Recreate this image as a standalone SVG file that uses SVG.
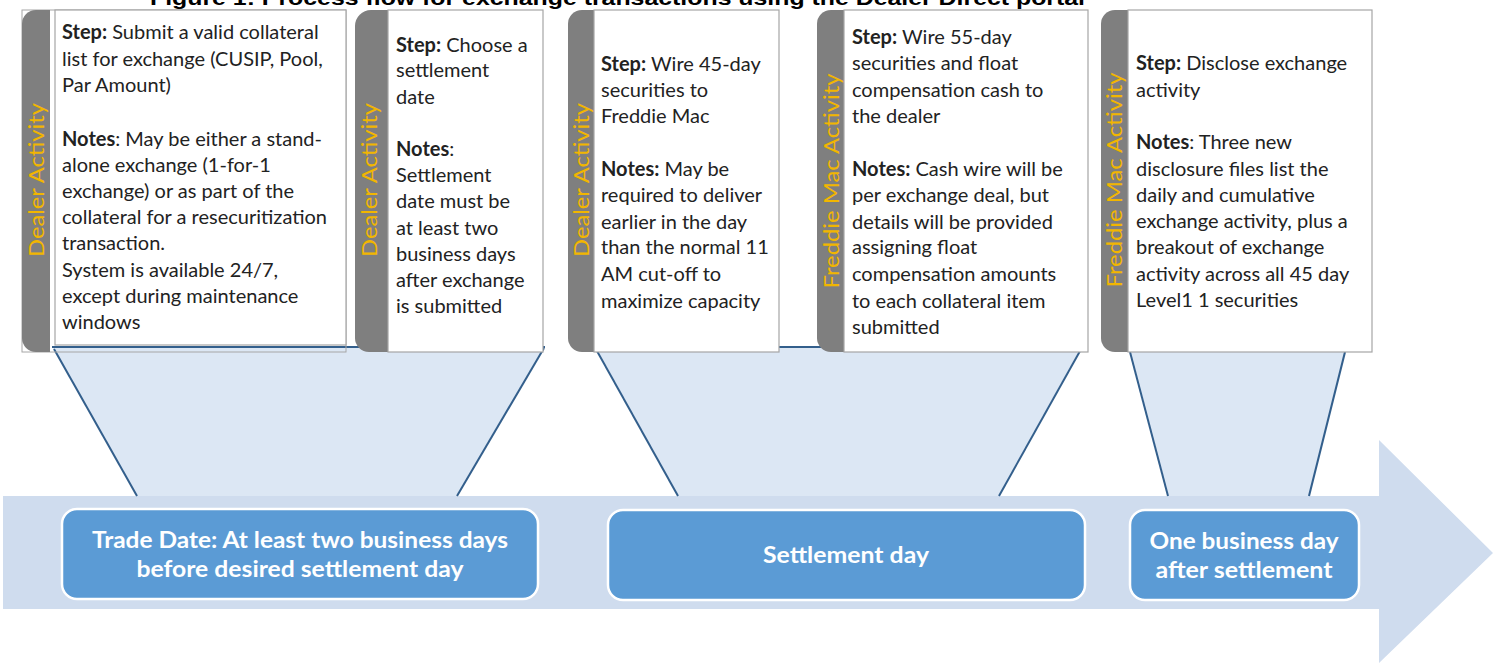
<svg xmlns="http://www.w3.org/2000/svg" width="1494" height="663" viewBox="0 0 1494 663">
<style>
.title{font-family:"Liberation Sans",Arial,sans-serif;font-weight:bold;font-size:21px;fill:#000}
.tab{fill:#7f7f7f}
.card{fill:#fff;stroke:#a6a6a6;stroke-width:1.2}
.vlab{font-family:Lato,"Liberation Sans",sans-serif;font-weight:400;font-size:22px;fill:#f2b600}
.body{font-family:Lato,"Liberation Sans",sans-serif;font-weight:400;font-size:20px;fill:#222}
.b{font-weight:bold}
.trap{fill:#dce7f4;stroke:none}
.edge{stroke:#335f8c;stroke-width:2;fill:none}
.band{fill:#cfdcee}
.pill{fill:#5b9bd5;stroke:#fff;stroke-width:2.5}
.ptxt{font-family:Lato,"Liberation Sans",sans-serif;font-weight:bold;font-size:22px;fill:#fff;text-anchor:middle}
</style>
<rect width="1494" height="663" fill="#fff"/>
<text class="title" x="150" y="5" textLength="935" lengthAdjust="spacingAndGlyphs">Figure 1: Process flow for exchange transactions using the Dealer Direct portal</text>

<!-- timeline band with arrow head -->
<path class="band" d="M3,496 H1379 V440 L1493,553 L1379,663 V609 H3 Z"/>

<g id="connectors">
  <path class="trap" d="M52,347 H545 L457,496 H137 Z"/>
  <path class="edge" d="M52,347 H545"/>
  <path class="edge" d="M54,349 L137,496"/>
  <path class="edge" d="M544,348 L457,496"/>
  <path class="trap" d="M596,347 H1081 L999,496 H678 Z"/>
  <path class="edge" d="M596,347 H1081"/>
  <path class="edge" d="M597,351 L678,496"/>
  <path class="edge" d="M1080,351 L999,496"/>
  <path class="trap" d="M1130,352 H1345 L1309,496 H1168 Z"/>
  <path class="edge" d="M1130,352 L1168,496"/>
  <path class="edge" d="M1345,352 L1309,496"/>
</g>

<g id="card1">
  <rect x="22" y="10" width="324" height="342" fill="none" stroke="#a6a6a6" stroke-width="1"/>
  <path class="tab" d="M50,10 H36 A14,14 0 0 0 22,24 V338 A14,14 0 0 0 36,352 H50 Z"/>
  <rect class="card" x="55" y="10" width="291" height="335"/>
  <text class="vlab" transform="translate(44,180) rotate(-90)" text-anchor="middle" textLength="154" lengthAdjust="spacingAndGlyphs">Dealer Activity</text>
  <text class="body" x="62">
    <tspan x="62" y="39"><tspan class="b">Step:</tspan> Submit a valid collateral</tspan>
    <tspan x="62" y="66">list for exchange (CUSIP, Pool,</tspan>
    <tspan x="62" y="92">Par Amount)</tspan>
    <tspan x="62" y="146"><tspan class="b">Notes</tspan>: May be either a stand-</tspan>
    <tspan x="62" y="172">alone exchange (1-for-1</tspan>
    <tspan x="62" y="198">exchange) or as part of the</tspan>
    <tspan x="62" y="224">collateral for a resecuritization</tspan>
    <tspan x="62" y="250">transaction.</tspan>
    <tspan x="62" y="277">System is available 24/7,</tspan>
    <tspan x="62" y="303">except during maintenance</tspan>
    <tspan x="62" y="329">windows</tspan>
  </text>
</g>

<g id="card2">
  <path class="tab" d="M388,10 H371 A16,16 0 0 0 355,26 V338 A14,14 0 0 0 369,352 H388 Z"/>
  <rect class="card" x="388" y="10" width="155" height="342"/>
  <text class="vlab" transform="translate(377,180) rotate(-90)" text-anchor="middle" textLength="154" lengthAdjust="spacingAndGlyphs">Dealer Activity</text>
  <text class="body">
    <tspan x="396" y="52"><tspan class="b">Step:</tspan> Choose a</tspan>
    <tspan x="396" y="77">settlement</tspan>
    <tspan x="396" y="104">date</tspan>
    <tspan x="396" y="156" class="b">Notes<tspan font-weight="400">:</tspan></tspan>
    <tspan x="396" y="182">Settlement</tspan>
    <tspan x="396" y="208">date must be</tspan>
    <tspan x="396" y="235">at least two</tspan>
    <tspan x="396" y="261">business days</tspan>
    <tspan x="396" y="287">after exchange</tspan>
    <tspan x="396" y="313">is submitted</tspan>
  </text>
</g>

<g id="card3">
  <path class="tab" d="M594,10 H582 A14,14 0 0 0 568,24 V338 A14,14 0 0 0 582,352 H594 Z"/>
  <rect class="card" x="594" y="10" width="185" height="342"/>
  <text class="vlab" transform="translate(589,180) rotate(-90)" text-anchor="middle" textLength="154" lengthAdjust="spacingAndGlyphs">Dealer Activity</text>
  <text class="body">
    <tspan x="601" y="71"><tspan class="b">Step:</tspan> Wire 45-day</tspan>
    <tspan x="601" y="97">securities to</tspan>
    <tspan x="601" y="123">Freddie Mac</tspan>
    <tspan x="601" y="176"><tspan class="b">Notes:</tspan> May be</tspan>
    <tspan x="601" y="202">required to deliver</tspan>
    <tspan x="601" y="229">earlier in the day</tspan>
    <tspan x="601" y="254">than the normal 11</tspan>
    <tspan x="601" y="281">AM cut-off to</tspan>
    <tspan x="601" y="308">maximize capacity</tspan>
  </text>
</g>

<g id="card4">
  <path class="tab" d="M844,10 H831 A14,14 0 0 0 817,24 V338 A14,14 0 0 0 831,352 H844 Z"/>
  <rect class="card" x="844" y="10" width="244" height="342"/>
  <text class="vlab" transform="translate(839,181) rotate(-90)" text-anchor="middle" textLength="215" lengthAdjust="spacingAndGlyphs">Freddie Mac Activity</text>
  <text class="body">
    <tspan x="852" y="44"><tspan class="b">Step:</tspan> Wire 55-day</tspan>
    <tspan x="852" y="70">securities and float</tspan>
    <tspan x="852" y="97">compensation cash to</tspan>
    <tspan x="852" y="123">the dealer</tspan>
    <tspan x="852" y="176"><tspan class="b">Notes:</tspan> Cash wire will be</tspan>
    <tspan x="852" y="202">per exchange deal, but</tspan>
    <tspan x="852" y="229">details will be provided</tspan>
    <tspan x="852" y="254">assigning float</tspan>
    <tspan x="852" y="281">compensation amounts</tspan>
    <tspan x="852" y="308">to each collateral item</tspan>
    <tspan x="852" y="334">submitted</tspan>
  </text>
</g>

<g id="card5">
  <path class="tab" d="M1128,10 H1115 A14,14 0 0 0 1101,24 V338 A14,14 0 0 0 1115,352 H1128 Z"/>
  <rect class="card" x="1128" y="10" width="244" height="342"/>
  <text class="vlab" transform="translate(1122,180) rotate(-90)" text-anchor="middle" textLength="215" lengthAdjust="spacingAndGlyphs">Freddie Mac Activity</text>
  <text class="body">
    <tspan x="1136" y="70"><tspan class="b">Step:</tspan> Disclose exchange</tspan>
    <tspan x="1136" y="97">activity</tspan>
    <tspan x="1136" y="149"><tspan class="b">Notes</tspan>: Three new</tspan>
    <tspan x="1136" y="176">disclosure files list the</tspan>
    <tspan x="1136" y="202">daily and cumulative</tspan>
    <tspan x="1136" y="228">exchange activity, plus a</tspan>
    <tspan x="1136" y="254">breakout of exchange</tspan>
    <tspan x="1136" y="281">activity across all 45 day</tspan>
    <tspan x="1136" y="307">Level1 1 securities</tspan>
  </text>
</g>

<g id="trade-date">
  <rect class="pill" x="62" y="509" width="476" height="90" rx="15"/>
  <text class="ptxt" x="300" y="548" textLength="416" lengthAdjust="spacingAndGlyphs">Trade Date: At least two business days</text>
  <text class="ptxt" x="300" y="577" textLength="327" lengthAdjust="spacingAndGlyphs">before desired settlement day</text>
</g>
<g id="settlement-day">
  <rect class="pill" x="608" y="510" width="477" height="90" rx="15"/>
  <text class="ptxt" x="846" y="563" textLength="166" lengthAdjust="spacingAndGlyphs">Settlement day</text>
</g>
<g id="after-settlement">
  <rect class="pill" x="1130" y="510" width="229" height="90" rx="15"/>
  <text class="ptxt" x="1244" y="549" textLength="189" lengthAdjust="spacingAndGlyphs">One business day</text>
  <text class="ptxt" x="1244" y="578" textLength="177" lengthAdjust="spacingAndGlyphs">after settlement</text>
</g>
</svg>
